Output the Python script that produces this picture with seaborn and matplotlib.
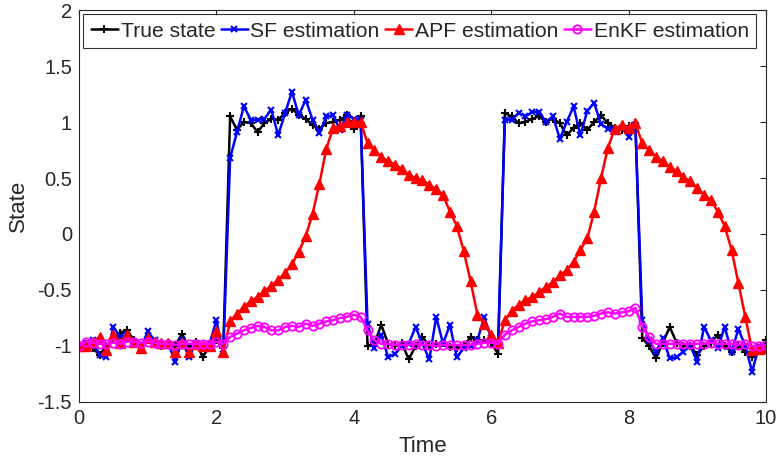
import matplotlib
matplotlib.use("Agg")
import matplotlib.pyplot as plt
import numpy as np
import pandas as pd
import seaborn as sns

# time grid, step 0.1
t = np.round(np.arange(0, 101) * 0.1, 1)

true_state = [
    -1.0, -0.98, -1.02, -1.08, -1.0, -0.95, -0.88, -0.86, -0.95, -1.0,
    -0.95, -0.98, -1.0, -0.97, -1.0, -0.89, -1.02, -0.96, -1.1, -1.0,
    -0.95, -1.02,
    1.05, 0.93, 1.0, 0.99, 0.91, 0.99, 1.03, 1.02, 1.08, 1.12,
    1.06, 1.03, 0.97, 0.94, 0.99, 1.0, 1.02, 1.06, 0.94, 1.05,
    -1.0, -0.98, -0.81, -0.98, -1.0, -0.97, -1.12, -1.0, -0.92, -1.0,
    -0.98, -0.97, -1.01, -1.02, -1.0, -0.92, -0.95, -0.95, -0.97, -1.07,
    1.08, 1.05, 0.99, 1.0, 1.03, 1.05, 1.0, 1.03, 0.99, 0.88,
    0.95, 0.99, 0.93, 1.0, 1.06, 0.99, 0.95, 0.93, 0.96, 0.99,
    -0.93, -1.0, -1.11, -0.97, -0.83, -0.97, -1.0, -1.0, -1.08, -1.0,
    -0.97, -0.9, -1.0, -1.05, -1.0, -1.05, -1.1, -1.02, -0.95,
]

sf_est = [
    -1.0, -0.97, -0.95, -1.08, -1.1, -0.83, -0.92, -0.9, -0.98, -1.02,
    -0.87, -0.95, -1.0, -0.98, -1.14, -0.95, -1.1, -0.97, -1.0, -0.98,
    -0.77, -1.07,
    0.68, 0.91, 1.14, 1.02, 1.02, 1.03, 1.11, 0.88, 1.08, 1.27,
    1.06, 1.2, 1.02, 0.9, 1.05, 1.06, 0.93, 1.06, 1.03, 1.02,
    -0.8, -1.02, -0.9, -1.1, -1.07, -1.0, -0.98, -0.83, -0.98, -1.12,
    -0.74, -0.98, -0.81, -1.1, -1.02, -1.0, -0.95, -0.74, -0.93, -0.98,
    1.02, 1.02, 1.08, 1.05, 1.09, 1.09, 1.0, 1.05, 0.85, 1.0,
    1.14, 0.88, 1.1, 1.17, 0.98, 0.94, 0.93, 0.95, 0.87, 0.97,
    -0.77, -0.95, -1.05, -0.93, -1.11, -1.1, -1.05, -1.0, -1.14, -0.83,
    -0.95, -1.02, -0.83, -1.05, -0.85, -1.0, -1.23, -1.0, -1.0,
]

apf_est = [
    -1.0, -1.0, -0.96, -0.92, -1.04, -0.9, -0.97, -0.9, -0.96, -1.02,
    -0.93, -0.96, -0.97, -0.97, -1.05, -0.97, -1.05, -0.98, -1.0, -1.0,
    -0.87, -1.05,
    -0.78, -0.71, -0.65, -0.6, -0.56, -0.51, -0.46, -0.41, -0.35, -0.27,
    -0.16, -0.02, 0.18, 0.45, 0.76, 0.95, 0.96, 1.0, 1.0, 1.0,
    0.81, 0.75, 0.69, 0.65, 0.62, 0.58, 0.53, 0.5, 0.48, 0.44,
    0.4, 0.35, 0.2, 0.07, -0.15, -0.42, -0.72, -0.8, -0.9, -0.97,
    -0.77, -0.69, -0.63, -0.59, -0.56, -0.52, -0.47, -0.43, -0.37, -0.32,
    -0.25, -0.14, -0.04, 0.2, 0.5, 0.77, 0.94, 0.97, 0.95, 0.99,
    0.81, 0.75, 0.69, 0.65, 0.6, 0.56, 0.51, 0.47, 0.41, 0.35,
    0.3, 0.2, 0.07, -0.14, -0.44, -0.74, -1.04, -1.03, -1.02,
]

enkf_est = [
    -1.0, -0.96, -0.97, -0.98, -0.98, -0.97, -0.98, -0.96, -0.96, -0.97,
    -0.96, -0.97, -0.98, -0.98, -0.99, -0.98, -0.98, -0.98, -0.98, -0.98,
    -0.96, -0.98,
    -0.92, -0.89, -0.86, -0.84, -0.82, -0.83, -0.86, -0.86, -0.83, -0.82,
    -0.83, -0.8, -0.82, -0.8, -0.78, -0.77, -0.75, -0.74, -0.72, -0.74,
    -0.86, -0.95, -0.98, -0.98, -0.99, -0.99, -0.99, -0.98, -0.99, -0.99,
    -1.0, -0.99, -0.99, -0.99, -0.99, -0.99, -0.98, -0.97, -0.97, -0.98,
    -0.9, -0.86, -0.83, -0.8, -0.78, -0.77, -0.76, -0.74, -0.71, -0.74,
    -0.74, -0.74, -0.74, -0.73, -0.71, -0.7, -0.71, -0.7, -0.69, -0.66,
    -0.83, -0.92, -0.98, -0.98, -0.98, -0.98, -0.98, -0.98, -0.98, -0.98,
    -0.97, -0.98, -0.98, -0.98, -0.99, -0.98, -1.0, -1.0, -0.99,
]

labels = ["True state", "SF estimation", "APF estimation", "EnKF estimation"]
colors = ["black", "#0000ff", "#ff0000", "#ff00ff"]

df = pd.DataFrame({"Time": t, labels[0]: true_state, labels[1]: sf_est,
                   labels[2]: apf_est, labels[3]: enkf_est})

sns.set_style("white")
plt.rcParams["font.family"] = ["Liberation Sans", "DejaVu Sans"]

fig = plt.figure(figsize=(7.77, 4.59), dpi=100)
ax = fig.add_axes([0.1017, 0.1242, 0.884, 0.854])

styles = [
    dict(marker="+", markersize=6, markeredgewidth=1.5),
    dict(marker="x", markersize=4, markeredgewidth=1.5),
    dict(marker="^", markersize=7, markeredgewidth=1.0),
    dict(marker="o", markersize=6, markeredgewidth=1.3, markerfacecolor="none"),
]
for lab, col, st in zip(labels, colors, styles):
    sns.lineplot(data=df, x="Time", y=lab, color=col, label=lab, linewidth=1.8,
                 markeredgecolor=col, ax=ax, **st)

ax.set_xlim(0, 10)
ax.set_ylim(-1.5, 2)
ax.set_xticks(np.arange(0, 11, 2))
ax.set_yticks(np.arange(-1.5, 2.01, 0.5))
ax.set_yticklabels(["-1.5", "-1", "-0.5", "0", "0.5", "1", "1.5", "2"])
ax.set_xlabel("Time", fontsize=16, labelpad=6)
ax.set_ylabel("State", fontsize=16, labelpad=6)
ax.tick_params(direction="in", length=4, labelsize=14.5, top=True, right=True,
               colors="#262626", pad=5)
for sp in ax.spines.values():
    sp.set_color("#262626")
    sp.set_linewidth(0.8)

leg = ax.legend(loc="upper left", ncol=4, fontsize=15.2, handlelength=1.3,
                handletextpad=0.12, columnspacing=0.25, borderpad=0.35,
                borderaxespad=0.2, frameon=True, fancybox=False)
leg.get_frame().set_edgecolor("black")
leg.get_frame().set_linewidth(0.8)

fig.savefig("out.png", dpi=100)
